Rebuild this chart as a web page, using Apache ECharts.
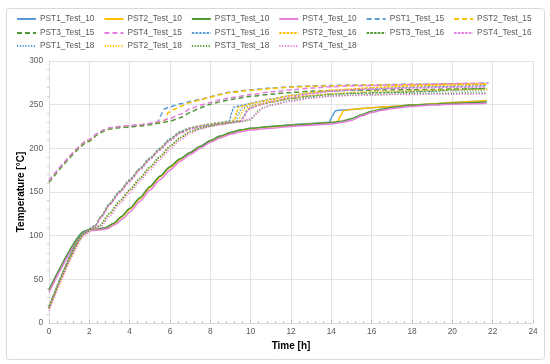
<!DOCTYPE html>
<html><head><meta charset="utf-8">
<script src="https://cdn.jsdelivr.net/npm/echarts@6/dist/echarts.min.js"></script>
<style>html,body{margin:0;padding:0;background:#fff}#c{width:550px;height:364px}</style>
</head><body><div id="c"></div>
<script>
// ---- data: [time h, temperature °C] ----
const PST1_Test_10 = [[0,38],[1.75,105],[2,107],[2.4,107.5],[2.8,109],[3.2,114],[3.6,122],[4,131],[4.5,143],[5,156],[5.5,168],[6,179],[6.5,188],[7,195.5],[7.5,202.5],[8,209],[8.5,214],[9,218],[9.5,221],[10,223],[11,225],[12,227],[13,228.5],[13.9,230],[14.05,237],[14.2,243],[14.6,244],[15,244.5],[16,246.5],[17,248],[18,249.5],[19,251],[20,252.5],[21,253.5],[21.7,254.5]];
const PST2_Test_10 = [[0,37],[1.75,104],[2,106.5],[2.4,107],[2.8,108.5],[3.2,113],[3.6,121],[4,130],[4.5,142],[5,155],[5.5,167],[6,178],[6.5,187],[7,195],[7.5,202],[8,208.5],[8.5,213.5],[9,217.5],[9.5,220.5],[10,222.5],[11,224.5],[12,226.5],[13,228],[14,229.5],[14.3,230.5],[14.45,237],[14.6,243],[15,244.5],[16,246.5],[17,248],[18,249.5],[19,251],[20,252.5],[21,253.5],[21.7,254.8]];
const PST3_Test_10 = [[0,38],[1.75,105],[2,107],[2.4,107.5],[2.8,109],[3.2,114],[3.6,122],[4,131],[4.5,143],[5,156],[5.5,168],[6,179],[6.5,188],[7,195],[7.5,202],[8,209],[8.5,214],[9,218],[9.5,221],[10,223],[11,225],[12,226.5],[13,228],[14,229.5],[14.5,231],[15,234],[15.5,238.5],[16,242.5],[16.5,245],[17,247],[18,249.5],[19,250.5],[20,251.5],[21,252.5],[21.7,253]];
const PST4_Test_10 = [[0,35],[1.8,104],[2.1,106],[2.5,106.5],[2.9,108],[3.3,113],[3.7,120],[4,127],[4.5,139],[5,152],[5.5,164],[6,175],[6.5,185],[7,193],[7.5,200],[8,207],[8.5,212],[9,216],[9.5,219],[10,221],[11,223],[12,225],[13,226.5],[14,228],[14.5,229.5],[15,232],[15.5,237],[16,241],[16.5,243.5],[17,245.5],[18,248],[19,249.5],[20,250.5],[21,251],[21.7,251.5]];

const PST1_Test_15 = [[0,163],[2,210],[2.4,217],[2.7,221],[3,223.5],[3.5,225],[4,226],[4.5,227],[5,228.5],[5.4,230.5],[5.55,238],[5.7,245],[6,247.5],[6.5,251],[7,253.5],[7.5,256],[8,259],[8.5,262],[9,264.5],[10,267],[11,269],[12,270.5],[13,271.5],[14,272],[15,272.5],[16,272.5],[17,273],[18,273.5],[19,273.5],[20,274],[21,274],[21.6,274.5]];
const PST2_Test_15 = [[0,162],[2,209],[2.4,216.5],[2.7,220.5],[3,223],[3.5,224.5],[4,225.5],[4.5,226.5],[5,228],[5.5,230],[5.8,232.5],[5.9,241],[6.25,245],[6.5,248],[7,252.5],[7.5,255.5],[8,258.5],[8.5,261.5],[9,264],[10,266.5],[11,268.5],[12,270],[13,271],[14,271.5],[15,272],[16,272.5],[17,272.5],[18,273],[19,273],[20,273.5],[21,274],[21.8,274]];
const PST3_Test_15 = [[0,161],[2,208],[2.4,215.5],[2.7,219.5],[3,222],[3.5,223.5],[4,224.5],[4.5,225.5],[5,227],[5.5,229],[6,231],[6.5,235],[7,241],[7.5,246.5],[8,250.5],[8.5,253.5],[9,256],[10,259.5],[11,262],[12,264],[13,265.5],[14,266],[15,266.5],[16,266.5],[17,267],[18,267],[19,267.5],[20,268],[21,268],[21.7,268.5]];
const PST4_Test_15 = [[0,163],[2,210],[2.4,217],[2.7,221],[3,223.5],[3.5,225],[4,226],[4.5,227],[5,228.5],[5.5,231],[6,234],[6.5,239],[7,245],[7.5,249.5],[8,252.5],[8.5,255.5],[9,258],[10,261.5],[11,264.5],[12,267],[13,269],[14,270.5],[15,271.5],[16,272],[17,272.5],[18,273],[19,273.5],[20,274],[21,274.5],[21.8,275]];

const PST1_Test_16 = [[0,19],[1.75,104],[2,108],[2.3,112],[2.6,123],[3,137],[3.5,151],[4,164],[4.5,177],[5,189],[5.5,200],[6,211],[6.5,219],[7,223.5],[7.5,226],[8,228],[8.5,229.5],[8.95,231.5],[9.05,240],[9.15,247],[9.5,249],[10,251.5],[10.5,254],[11,256.5],[12,260.5],[13,263.5],[14,265.5],[15,267],[16,268],[17,269],[18,270],[19,270.5],[20,271],[21,271.5],[21.7,272]];
const PST2_Test_16 = [[0,18],[1.75,103],[2,107.5],[2.3,111.5],[2.6,122],[3,136],[3.5,150],[4,163],[4.5,176],[5,188],[5.5,199],[6,210],[6.5,218],[7,223],[7.5,225.5],[8,227.5],[8.5,229],[9,230.5],[9.2,233],[9.3,241],[9.4,247],[9.7,249],[10,251],[10.5,253.5],[11,256],[12,260.5],[13,264],[14,266.5],[15,268],[16,269.5],[17,270.5],[18,271.5],[19,272],[20,272.5],[21,273],[21.7,273.5]];
const PST3_Test_16 = [[0,18],[1.75,103],[2,107.5],[2.3,111.5],[2.6,122],[3,136],[3.5,150],[4,163],[4.5,176],[5,188],[5.5,199],[6,210],[6.5,218],[7,222.5],[7.5,225],[8,227],[8.5,228.5],[9,230],[9.5,231.5],[9.65,236],[9.8,243],[10,246.5],[10.5,250],[11,253],[12,257],[13,260],[14,262],[15,263],[16,263.5],[17,264],[18,264.5],[19,265.5],[20,267],[21,268],[21.7,269]];
const PST4_Test_16 = [[0,17],[1.8,103],[2,107],[2.3,111],[2.6,121],[3,135],[3.5,149],[4,162],[4.5,175],[5,187],[5.5,198],[6,209],[6.5,217],[7,222],[7.5,224.5],[8,226.5],[8.5,228],[9,229.5],[9.5,231],[9.65,235],[9.8,242],[10,246],[10.5,250],[11,253.5],[12,258.5],[13,262.5],[14,265.5],[15,267],[16,268],[17,268.5],[18,269],[19,269.5],[20,270],[21,270],[21.6,270.5]];

const PST1_Test_18 = [[0,17],[1.8,103],[2.1,107.5],[2.5,111],[3,126],[3.5,140],[4,153],[4.5,166],[5,179],[5.5,191],[6,203],[6.5,212.5],[7,219.5],[7.5,223.5],[8,226],[8.5,228],[9,230],[9.3,232],[9.4,240],[9.55,246],[10,249],[10.5,251.5],[11,253.5],[12,257],[13,260],[14,262],[15,263.5],[16,264.5],[17,265],[18,265.5],[19,265.5],[20,266],[21,266],[21.7,266.5]];
const PST2_Test_18 = [[0,16],[1.8,102],[2.1,107],[2.5,110.5],[3,125],[3.5,139],[4,152],[4.5,165],[5,178],[5.5,190],[6,202],[6.5,212],[7,219],[7.5,223],[8,225.5],[8.5,227.5],[9,229.5],[9.4,231.5],[9.5,238],[9.65,245],[10,248],[10.5,251],[11,253.5],[12,257.5],[13,260.5],[14,262.5],[15,264],[16,265],[17,265.5],[18,266],[19,266.5],[20,267],[21,267],[21.8,267.5]];
const PST3_Test_18 = [[0,17],[1.8,103],[2.1,107.5],[2.5,111],[3,125],[3.5,139],[4,152],[4.5,165],[5,178],[5.5,190],[6,202],[6.5,212],[7,219],[7.5,223],[8,225.5],[8.5,227.5],[9,229],[9.5,230.5],[10,232.5],[10.2,238],[10.4,244],[10.7,247],[11,249.5],[12,254.5],[13,258],[14,260],[15,261],[16,261.5],[17,262],[18,262.5],[19,263],[20,263],[21,263.5],[21.7,263.5]];
const PST4_Test_18 = [[0,14],[1.85,102],[2.2,107],[2.6,110.5],[3,122],[3.5,136],[4,149],[4.5,162],[5,175],[5.5,187],[6,199],[6.5,209.5],[7,217],[7.5,222],[8,225],[8.5,227],[9,229],[9.5,231],[10,234],[10.3,240],[10.6,246],[11,249.5],[12,254],[13,257.5],[14,259.5],[15,260.5],[16,261],[17,261.5],[18,261.5],[19,262],[20,262],[21,262],[21.7,262.5]];

const xTicks = [0,2,4,6,8,10,12,14,16,18,20,22,24];
const yTicks = [0,50,100,150,200,250,300];

const seriesDefs = [
  ['PST1_Test_10', PST1_Test_10],['PST2_Test_10', PST2_Test_10],['PST3_Test_10', PST3_Test_10],['PST4_Test_10', PST4_Test_10],
  ['PST1_Test_15', PST1_Test_15],['PST2_Test_15', PST2_Test_15],['PST3_Test_15', PST3_Test_15],['PST4_Test_15', PST4_Test_15],
  ['PST1_Test_16', PST1_Test_16],['PST2_Test_16', PST2_Test_16],['PST3_Test_16', PST3_Test_16],['PST4_Test_16', PST4_Test_16],
  ['PST1_Test_18', PST1_Test_18],['PST2_Test_18', PST2_Test_18],['PST3_Test_18', PST3_Test_18],['PST4_Test_18', PST4_Test_18]
];

// ---- styling ----
const colors = {PST1:'#5B9BD5', PST2:'#FFC000', PST3:'#4E9A36', PST4:'#E47FE0'};
const dashes = {'10':'solid', '15':[5,3], '16':[2.5,1.2], '18':[1.2,1.6]};

const series = seriesDefs.map(([name, data]) => {
  const p = name.split('_');
  return {
    name, type:'line', data, symbol:'none', showSymbol:false, smooth:0.2, smoothMonotone:'x',
    lineStyle:{color:colors[p[0]], width:1.5, type:dashes[p[2]]},
    itemStyle:{color:colors[p[0]]},
    emphasis:{disabled:true}
  };
});

const names = seriesDefs.map(d => d[0]);
const legendBase = {
  left:16, itemWidth:19, itemHeight:8, itemGap:9, padding:0,
  itemStyle:{opacity:0, borderWidth:0},
  textStyle:{fontFamily:'Liberation Sans, Arial', fontSize:8.3, color:'#595959', padding:[0,0,0,-1]}
};

const chart = echarts.init(document.getElementById('c'), null, {renderer:'canvas'});
chart.setOption({
  animation:false,
  backgroundColor:'#fff',
  graphic:[{type:'rect', shape:{x:6.5, y:8.5, width:538, height:351, r:3}, style:{fill:'none', stroke:'#d9d9d9', lineWidth:1}, z:-10}],
  legend:[
    Object.assign({}, legendBase, {top:15, data:names.slice(0,6)}),
    Object.assign({}, legendBase, {top:29, data:names.slice(6,12)}),
    Object.assign({}, legendBase, {top:42, data:names.slice(12,16)})
  ],
  grid:{left:49, right:17, top:61, bottom:41},
  xAxis:{
    type:'value', min:xTicks[0], max:xTicks[xTicks.length-1], interval:2,
    name:'Time [h]', nameLocation:'middle', nameGap:18, nameMoveOverlap:false,
    nameTextStyle:{fontFamily:'Liberation Sans, Arial', fontSize:10, fontWeight:'bold', color:'#000'},
    axisLine:{show:true, lineStyle:{color:'#d9d9d9'}},
    axisTick:{show:true, length:3, inside:true, lineStyle:{color:'#bfbfbf'}},
    minorTick:{show:true, splitNumber:5, length:2, lineStyle:{color:'#bfbfbf'}},
    axisLabel:{fontFamily:'Liberation Sans, Arial', fontSize:8.3, color:'#595959', margin:5},
    splitLine:{show:true, lineStyle:{color:'#e3e3e3', width:1}}
  },
  yAxis:{
    type:'value', min:yTicks[0], max:yTicks[yTicks.length-1], interval:50,
    name:'Temperature [°C]', nameLocation:'middle', nameGap:23, nameMoveOverlap:false,
    nameTextStyle:{fontFamily:'Liberation Sans, Arial', fontSize:10, fontWeight:'bold', color:'#000'},
    axisLine:{show:true, lineStyle:{color:'#d9d9d9'}},
    axisTick:{show:false},
    minorTick:{show:true, splitNumber:5, length:2, lineStyle:{color:'#d0d0d0'}},
    axisLabel:{fontFamily:'Liberation Sans, Arial', fontSize:8.3, color:'#595959', margin:6},
    splitLine:{show:true, lineStyle:{color:'#e3e3e3', width:1}}
  },
  series
});
</script></body></html>
